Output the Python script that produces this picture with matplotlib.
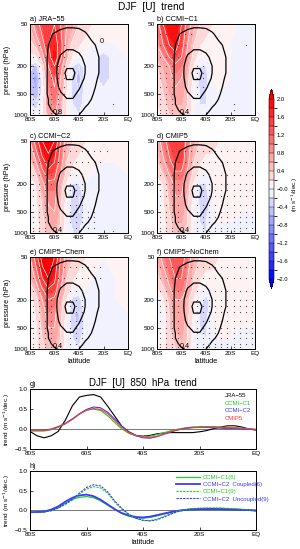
import numpy as np
import matplotlib
matplotlib.use('Agg')
import matplotlib.pyplot as plt
from matplotlib.colors import ListedColormap, BoundaryNorm

plt.rcParams['font.family'] = ['Liberation Sans', 'DejaVu Sans']

# ---------------- data: zonal-mean zonal wind trend (m/s/decade) ----------------
lat_grid = [-80, -75, -70, -65, -60, -55, -50, -45, -40, -35, -30, -20, -10, 0]
plev = [50, 100, 150, 200, 300, 500, 700, 1000]

trend_jra55 = [
    [0.6, 1.0, 1.4, 1.6, 1.6, 1.2, 0.8, 0.6, 0.4, 0.3, 0.2, 0.2, 0.1, 0.1],
    [0.3, 0.5, 1.0, 1.6, 1.8, 1.4, 0.6, 0.3, 0.2, 0.1, 0.0, -0.1, 0.0, 0.1],
    [0.1, 0.1, 0.6, 1.4, 1.9, 1.3, 0.5, 0.1, 0.0, 0.0, -0.1, -0.3, -0.1, 0.0],
    [-0.3, -0.5, 0.2, 1.2, 1.6, 1.0, 0.3, -0.2, -0.4, -0.1, -0.1, -0.3, -0.1, 0.0],
    [-0.5, -0.7, -0.1, 1.0, 1.3, 0.8, 0.2, -0.3, -0.5, -0.1, -0.1, -0.3, -0.1, 0.0],
    [-0.4, -0.6, -0.1, 0.9, 1.1, 0.7, 0.1, -0.3, -0.4, -0.1, 0.0, -0.1, 0.0, 0.0],
    [-0.2, -0.3, 0.0, 0.8, 1.0, 0.6, 0.1, -0.2, -0.3, -0.1, 0.0, 0.0, 0.0, 0.0],
    [-0.1, -0.1, 0.1, 0.6, 0.8, 0.5, 0.1, -0.1, -0.2, -0.1, 0.0, 0.0, 0.0, 0.0],
]
trend_ccmi_c1 = [
    [1.0, 1.6, 2.0, 2.0, 1.6, 1.0, 0.6, 0.4, 0.3, 0.2, 0.2, 0.1, -0.1, -0.1],
    [0.8, 1.2, 1.6, 1.8, 1.4, 0.8, 0.4, 0.2, 0.1, 0.1, 0.1, 0.0, -0.1, 0.0],
    [0.6, 0.8, 1.2, 1.4, 1.2, 0.7, 0.3, 0.0, 0.0, 0.1, 0.1, 0.0, 0.0, 0.0],
    [0.4, 0.6, 0.8, 1.1, 1.0, 0.6, 0.1, -0.2, -0.2, 0.0, 0.1, 0.0, 0.0, 0.0],
    [0.3, 0.5, 0.7, 0.9, 0.8, 0.5, 0.0, -0.3, -0.3, 0.0, 0.1, 0.0, 0.0, 0.0],
    [0.2, 0.4, 0.6, 0.7, 0.7, 0.4, 0.0, -0.2, -0.2, 0.0, 0.0, 0.0, 0.0, 0.0],
    [0.2, 0.3, 0.5, 0.6, 0.6, 0.4, 0.0, -0.2, -0.2, 0.0, 0.0, 0.0, 0.0, 0.0],
    [0.1, 0.2, 0.4, 0.5, 0.5, 0.3, 0.0, -0.1, -0.1, 0.0, 0.0, 0.0, 0.0, 0.0],
]
trend_ccmi_c2 = [
    [0.8, 1.4, 2.0, 2.2, 2.0, 1.2, 0.6, 0.4, 0.3, 0.2, 0.2, 0.1, 0.1, 0.1],
    [0.4, 0.8, 1.4, 1.8, 1.6, 1.0, 0.4, 0.2, 0.1, 0.1, 0.1, 0.0, 0.0, 0.1],
    [0.2, 0.4, 1.0, 1.4, 1.3, 0.8, 0.3, 0.0, 0.0, 0.1, 0.0, -0.1, -0.1, 0.0],
    [0.0, 0.2, 0.7, 1.1, 1.1, 0.6, 0.1, -0.2, -0.2, 0.0, 0.0, -0.1, -0.1, 0.0],
    [-0.1, 0.1, 0.5, 0.9, 0.9, 0.5, 0.0, -0.3, -0.4, -0.1, 0.0, -0.1, 0.0, 0.0],
    [-0.1, 0.1, 0.4, 0.7, 0.8, 0.4, 0.0, -0.3, -0.4, -0.1, 0.0, 0.0, 0.0, 0.0],
    [-0.1, 0.1, 0.3, 0.6, 0.7, 0.4, 0.0, -0.3, -0.3, -0.1, 0.0, 0.0, 0.0, 0.0],
    [0.0, 0.1, 0.3, 0.5, 0.5, 0.3, 0.0, -0.2, -0.2, 0.0, 0.0, 0.0, 0.0, 0.0],
]
trend_cmip5 = [
    [0.6, 1.0, 1.4, 1.6, 1.6, 1.0, 0.6, 0.4, 0.3, 0.3, 0.2, 0.2, 0.2, 0.2],
    [0.4, 0.7, 1.1, 1.4, 1.4, 0.9, 0.4, 0.2, 0.1, 0.1, 0.1, 0.1, 0.1, 0.1],
    [0.2, 0.4, 0.8, 1.1, 1.1, 0.7, 0.3, 0.0, -0.1, 0.1, 0.1, 0.1, 0.1, 0.1],
    [0.0, 0.2, 0.6, 0.9, 0.9, 0.6, 0.1, -0.2, -0.2, 0.0, 0.1, 0.1, 0.1, 0.1],
    [-0.1, 0.1, 0.5, 0.8, 0.8, 0.5, 0.0, -0.3, -0.3, 0.0, 0.1, 0.1, 0.1, 0.1],
    [-0.1, 0.1, 0.4, 0.7, 0.7, 0.4, 0.0, -0.2, -0.3, 0.0, 0.1, 0.1, 0.0, 0.0],
    [0.0, 0.1, 0.3, 0.6, 0.6, 0.4, 0.0, -0.2, -0.2, 0.0, 0.0, 0.0, 0.0, 0.0],
    [0.0, 0.1, 0.3, 0.5, 0.5, 0.3, 0.0, -0.1, -0.2, 0.0, 0.0, 0.0, 0.0, 0.0],
]
trend_cmip5_chem = [
    [0.8, 1.4, 2.2, 2.4, 2.0, 1.2, 0.6, 0.4, 0.3, 0.2, 0.1, 0.0, 0.1, 0.1],
    [0.5, 0.9, 1.6, 2.0, 1.7, 1.0, 0.4, 0.2, 0.1, 0.1, 0.0, -0.1, 0.0, 0.1],
    [0.2, 0.5, 1.1, 1.5, 1.4, 0.8, 0.3, 0.0, -0.1, 0.0, 0.0, 0.0, 0.0, 0.1],
    [0.0, 0.3, 0.8, 1.2, 1.1, 0.6, 0.1, -0.3, -0.3, 0.0, 0.0, 0.0, 0.0, 0.1],
    [-0.1, 0.2, 0.6, 1.0, 0.9, 0.5, 0.0, -0.4, -0.4, -0.1, 0.0, 0.0, 0.0, 0.0],
    [-0.1, 0.1, 0.5, 0.8, 0.8, 0.4, 0.0, -0.3, -0.4, -0.1, 0.0, 0.0, 0.0, 0.0],
    [0.0, 0.1, 0.4, 0.6, 0.7, 0.4, 0.0, -0.2, -0.3, 0.0, 0.0, 0.0, 0.0, 0.0],
    [0.0, 0.1, 0.3, 0.5, 0.5, 0.3, 0.0, -0.1, -0.2, 0.0, 0.0, 0.0, 0.0, 0.0],
]
trend_cmip5_nochem = [
    [0.6, 0.9, 1.2, 1.4, 1.4, 1.0, 0.6, 0.4, 0.3, 0.3, 0.2, 0.2, 0.2, 0.2],
    [0.3, 0.6, 0.9, 1.2, 1.2, 0.8, 0.4, 0.2, 0.1, 0.1, 0.1, 0.1, 0.1, 0.1],
    [0.1, 0.3, 0.7, 1.0, 1.0, 0.7, 0.3, 0.0, -0.1, 0.0, 0.1, 0.1, 0.1, 0.1],
    [-0.1, 0.1, 0.5, 0.8, 0.8, 0.5, 0.1, -0.1, -0.3, 0.0, 0.1, 0.1, 0.1, 0.1],
    [-0.2, 0.0, 0.4, 0.7, 0.7, 0.5, 0.1, -0.2, -0.3, 0.0, 0.1, 0.1, 0.1, 0.1],
    [-0.1, 0.0, 0.4, 0.6, 0.7, 0.4, 0.0, -0.2, -0.2, 0.0, 0.1, 0.1, 0.0, 0.0],
    [0.0, 0.1, 0.3, 0.5, 0.6, 0.4, 0.0, -0.1, -0.2, 0.0, 0.0, 0.0, 0.0, 0.0],
    [0.0, 0.1, 0.3, 0.4, 0.5, 0.3, 0.0, -0.1, -0.1, 0.0, 0.0, 0.0, 0.0, 0.0],
]

# DJF climatological [U] (m/s), black contours (finer grid)
clim_lat = [-80, -75, -70, -65, -60, -55, -50, -45, -40, -35, -30, -25, -20, -15, -10, -5, 0]
clim_p = [50, 70, 100, 150, 200, 250, 300, 400, 500, 600, 700, 850, 1000]
clim_u = [
    [-4, -2, 0, 3, 5, 7, 8, 8, 8, 7, 5, 3, 1, -1, -2, -3, -4],
    [-2, 1, 4, 8, 11, 13, 14, 14, 13, 11, 8, 6, 3, 0, -2, -3, -4],
    [-2, 2, 6, 10, 14, 17, 18, 18, 17, 15, 12, 9, 6, 2, -1, -3, -4],
    [-2, 2, 6, 11, 16, 21, 24, 24, 22, 18, 14, 11, 7, 3, 0, -2, -3],
    [-2, 2, 6, 11, 17, 24, 29, 29, 25, 20, 15, 11, 7, 3, 0, -2, -3],
    [-2, 2, 6, 11, 17, 25, 32, 32, 26, 20, 15, 11, 7, 3, 0, -2, -3],
    [-2, 2, 6, 11, 17, 24, 30.5, 30.5, 25, 19, 14, 10, 6, 2, 0, -2, -3],
    [-1, 2, 6, 11, 16, 22, 26, 26, 21, 16, 12, 9, 5, 2, 0, -2, -2],
    [-1, 2, 6, 11, 15, 19, 22, 22, 18, 14, 11, 8, 4, 1, -1, -2, -2],
    [0, 2, 6, 10, 14, 17, 19.5, 19.5, 16, 13, 10, 7, 4, 1, -1, -2, -2],
    [0, 2, 5, 10, 13, 16, 17, 17, 14, 11, 9, 6, 3, 1, -1, -2, -2],
    [0, 2, 5, 8, 12, 14, 15, 15, 12, 9, 7, 4, 2, 0, -1, -2, -2],
    [0, 1, 3, 6, 9, 11, 12, 12, 10, 7, 5, 3, 1, 0, -1, -1, -2],
]
clim_levels = [10, 20, 30]

# significance stippling
stip_lat = [-77.5, -72.5, -67.5, -62.5, -57.5, -52.5, -47.5, -42.5,
            -37.5, -32.5, -27.5, -22.5, -17.5, -12.5, -7.5, -2.5]
stip_p = [70, 100, 150, 200, 250, 300, 400, 500, 600, 700, 850, 925]
stip_jra55 = [
    "................", ".xxxxx..........", "xxxxxx..........", "xx.xxx..........",
    "xx.xxx..........", "xx.xxx..........", "xx.xxx..........", "xx.xxx..........",
    "xx.xx...........", "xx.xx........x..", "xx.xx...........", "xx.xx...........",
]
stip_ccmi_c1 = [
    "xxxxxx..........", "xxxxx.........x.", "xxxx............", "xxx...xx........",
    "xxx...xx........", "xxx...xx........", "xxx...xx........", "xxx...x.........",
    "xxx.............", "xxx.........x...", "xxx.........x...", "xxx.............",
]
stip_ccmi_c2 = [
    "xxxxxxxxxxxxx...", "xxxxx.xxxxxx....", "xxxx..xxx.......", "xxxx..xxx.......",
    "xxx...xxx.......", "xxx...xxx.......", "xxx...xxx.......", "xxx...xxxxx.....",
    "xxx...xxxxx.....", "xxx...xxxxx.....", "xxx....xxxx.....", "xxx..........x..",
]
stip_cmip5 = [
    "xxxxxxxxxxxxxxxx", "xxxxxxxxxxxxxxxx", "xxxxx.xxxxxxxxxx", "xxxx..xxxxxxxxxx",
    "xxxx..xxxxxxxxxx", "xxxx..xxxxxxxxxx", "xxxx..xxxxxxxxxx", "xxxx..xxxxxxxxxx",
    "xxxx..xxxxxxxxxx", "xxxx..xxxxxxxxxx", "xxxx..xxxxxxxxxx", "xxxx..xxxxxxxx..",
]
stip_cmip5_chem = [
    "xxxxxxxxxxxx....", "xxxxxx.xxxxx....", "xxxx..xxx.......", "xxxx..xxx.......",
    "xxxx..xxx.......", "xxxx..xxx.......", "xxxx..xxx.......", "xxxx..xxx.......",
    "xxxx..xxx.......", "xxxx..xxx.......", "xxxx..xx........", "xxxx............",
]
stip_cmip5_nochem = [
    "xxxxxxxxxxxxxxxx", "xxxxxxxxxxxxxxxx", "xxxxx.xxxxxxxxxx", "xxxx..xxxxxxxxxx",
    "xxxx..xxxxxxxxxx", "xxxx..xxxxxxxxxx", "xxxx..xxxxxxxxxx", "xxxx..xxxxxxxxxx",
    "xxxx..xxxxxxxxxx", "xxxx..xxxxxxxxxx", "xxxx..xxxxxxxxxx", "xxxx..xxxxxxxx..",
]

panel_titles = ["a) JRA\u221255", "b) CCMI\u2212C1", "c) CCMI\u2212C2",
                "d) CMIP5", "e) CMIP5\u2212Chem", "f) CMIP5\u2212NoChem"]
panel_fields = [trend_jra55, trend_ccmi_c1, trend_ccmi_c2,
                trend_cmip5, trend_cmip5_chem, trend_cmip5_nochem]
panel_stip = [stip_jra55, stip_ccmi_c1, stip_ccmi_c2,
              stip_cmip5, stip_cmip5_chem, stip_cmip5_nochem]

# ---------------- data: 850 hPa trend lines ----------------
lat_line = [-80 + 2.5 * i for i in range(33)]
u850_jra55 = [-0.06, -0.17, -0.22, -0.17, -0.06, 0.22, 0.58, 0.8, 0.84, 0.86, 0.8, 0.57,
              0.32, 0.07, -0.07, -0.16, -0.18, -0.16, -0.12, -0.1, -0.09, -0.09, -0.09,
              -0.09, -0.07, -0.04, 0.01, 0.05, 0.08, 0.08, 0.05, 0.0, -0.03]
u850_ccmi_c1 = [-0.05, -0.05, -0.05, -0.02, 0.04, 0.13, 0.25, 0.38, 0.47, 0.50, 0.46, 0.33,
                0.16, 0.0, -0.11, -0.17, -0.19, -0.18, -0.14, -0.09, -0.04, 0.0, 0.03,
                0.05, 0.06, 0.06, 0.06, 0.05, 0.04, 0.03, 0.02, 0.0, -0.02]
u850_ccmi_c2 = [-0.03, -0.03, -0.03, 0.0, 0.06, 0.14, 0.25, 0.38, 0.49, 0.55, 0.53, 0.42,
                0.25, 0.07, -0.08, -0.17, -0.22, -0.23, -0.19, -0.13, -0.07, -0.02, 0.02,
                0.04, 0.04, 0.04, 0.03, 0.02, 0.01, 0.01, 0.0, 0.0, -0.01]
u850_cmip5 = [-0.04, -0.04, -0.04, -0.01, 0.05, 0.13, 0.24, 0.37, 0.47, 0.51, 0.49, 0.38,
              0.21, 0.04, -0.09, -0.16, -0.2, -0.21, -0.18, -0.12, -0.06, -0.02, 0.01,
              0.03, 0.04, 0.05, 0.05, 0.04, 0.03, 0.03, 0.02, 0.01, -0.01]

u850_c1_6 = [-0.05, -0.05, -0.04, 0.0, 0.07, 0.18, 0.28, 0.33, 0.35, 0.32, 0.24, 0.13,
             0.02, -0.08, -0.15, -0.19, -0.2, -0.18, -0.14, -0.09, -0.05, -0.01, 0.02,
             0.04, 0.05, 0.05, 0.05, 0.05, 0.04, 0.03, 0.02, 0.0, -0.02]
u850_c2_coupled6 = [-0.05, -0.04, -0.03, 0.02, 0.1, 0.22, 0.32, 0.38, 0.4, 0.36, 0.27, 0.15,
                    0.03, -0.07, -0.13, -0.17, -0.18, -0.16, -0.12, -0.08, -0.04, -0.01,
                    0.01, 0.02, 0.03, 0.03, 0.03, 0.03, 0.02, 0.02, 0.01, 0.01, 0.0]
u850_c1_9 = [-0.05, -0.05, -0.04, -0.01, 0.06, 0.15, 0.26, 0.41, 0.54, 0.6, 0.57, 0.43,
             0.21, 0.03, -0.11, -0.21, -0.26, -0.26, -0.22, -0.15, -0.08, -0.02, 0.02,
             0.04, 0.05, 0.06, 0.06, 0.06, 0.05, 0.04, 0.03, 0.01, -0.01]
u850_c2_uncoupled9 = [-0.05, -0.05, -0.04, -0.01, 0.06, 0.16, 0.28, 0.44, 0.58, 0.65, 0.62,
                      0.47, 0.24, 0.05, -0.1, -0.2, -0.25, -0.27, -0.24, -0.17, -0.09,
                      -0.03, 0.01, 0.03, 0.04, 0.04, 0.04, 0.03, 0.03, 0.02, 0.01, 0.0, -0.01]

xticks = [-80, -60, -40, -20, 0]
xticklabels = ["80S", "60S", "40S", "20S", "EQ"]
pticks = [50, 200, 500, 1000]

C_GREEN = "#1fd01f"
C_BLUE = "#3a3aff"
C_RED = "#ff3a3a"

# ---------------- figure ----------------
W, H = 300, 549
fig = plt.figure(figsize=(W / 100, H / 100), dpi=100)


def add_ax(l, t, r, b):
    return fig.add_axes([l / W, 1 - b / H, (r - l) / W, (b - t) / H])


TICK_FS = 4.6
LAB_FS = 5.2

levels = np.round(np.arange(-2.0, 2.001, 0.2), 2)
base = plt.get_cmap('bwr')
ncol = len(levels) - 1
cmap = ListedColormap([base((i + 0.5) / ncol) for i in range(ncol)])
cmap.set_over(base(1.0))
cmap.set_under(base(0.0))
norm = BoundaryNorm(levels, cmap.N)

boxes = [(30, 24, 128, 115), (157, 24, 255, 115),
         (30, 141, 128, 233), (157, 141, 255, 233),
         (30, 257, 128, 349), (157, 257, 255, 349)]

LON, P = np.meshgrid(lat_grid, plev)
CLON, CP = np.meshgrid(clim_lat, clim_p)
cf = None
for k in range(6):
    ax = add_ax(*boxes[k])
    Z = np.array(panel_fields[k])
    cf = ax.contourf(LON, P, Z, levels=levels, cmap=cmap, norm=norm, extend='both')
    ax.contour(LON, P, Z, levels=[0.4, 0.8, 1.2, 1.6, 2.0, 2.4], colors='white',
               linewidths=0.5)
    ax.contour(LON, P, Z, levels=[-0.8, -0.4], colors='white', linewidths=0.4)
    ax.contour(CLON, CP, np.array(clim_u), levels=clim_levels, colors='black',
               linewidths=0.9)
    # stippling
    sx, sy = [], []
    for i, row in enumerate(panel_stip[k]):
        for j, ch in enumerate(row):
            if ch == 'x':
                sx.append(stip_lat[j])
                sy.append(stip_p[i])
    ax.plot(sx, sy, linestyle='none', marker='o', markersize=0.9,
            color='#505050', markeredgewidth=0)
    ax.set_yscale('log')
    ax.set_ylim(1000, 50)
    ax.set_xlim(-80, 0)
    ax.set_yticks(pticks)
    ax.set_yticklabels([str(p) for p in pticks])
    ax.yaxis.set_minor_locator(matplotlib.ticker.NullLocator())
    ax.set_xticks(xticks)
    ax.set_xticklabels(xticklabels)
    ax.tick_params(labelsize=TICK_FS, length=2, width=0.5, direction='in', pad=1.5)
    for s in ax.spines.values():
        s.set_linewidth(0.7)
    ax.text(0.0, 1.015, panel_titles[k], transform=ax.transAxes, fontsize=LAB_FS,
            ha='left', va='bottom')
    if k % 2 == 0:
        ax.set_ylabel("pressure (hPa)", fontsize=LAB_FS, labelpad=2)
    if k >= 4:
        ax.set_xlabel("latitude", fontsize=LAB_FS, labelpad=1.5)
    ax.text(-57, 930, "0.8" if k == 0 else "0.4", fontsize=5.2, ha='center',
            va='center', color='black')
    if k == 0:
        ax.text(-21.5, 90, "0", fontsize=5.2, ha='center', va='center', color='black')

fig.text(151 / W, 1 - 6.5 / H, "DJF  [U]  trend", fontsize=7.3, ha='center', va='center')

# colorbar
cax = fig.add_axes([269 / W, 1 - 289 / H, 5 / W, 200 / H])
cbticks = np.round(np.arange(-2.0, 2.01, 0.4), 1)
cb = fig.colorbar(cf, cax=cax, orientation='vertical', extend='both',
                  extendfrac=0.055, drawedges=True, ticks=cbticks)
cb.ax.set_yticklabels([f"{v:.1f}".replace('-', '\u2212') for v in cbticks])
cb.ax.tick_params(labelsize=4.2, length=0, pad=2)
cb.outline.set_linewidth(0.4)
cb.dividers.set_linewidth(0.3)
fig.text(294.5 / W, 1 - 195 / H, "(m s$^{-1}$/dec.)", fontsize=4.3, rotation=90,
         ha='center', va='center')

# ---------- panel g ----------
axg = add_ax(30, 389, 256, 449)
axg.axhline(0, color='#777777', lw=0.7)
axg.plot(lat_line, u850_jra55, color='black', lw=0.8, label='JRA\u221255')
axg.plot(lat_line, u850_ccmi_c1, color=C_GREEN, lw=0.8, label='CCMI\u2212C1')
axg.plot(lat_line, u850_ccmi_c2, color=C_BLUE, lw=0.8, label='CCMI\u2212C2')
axg.plot(lat_line, u850_cmip5, color=C_RED, lw=0.8, label='CMIP5')
leg = axg.legend(loc='upper left', bbox_to_anchor=(0.845, 1.0), frameon=False,
                 handlelength=0, handletextpad=0, fontsize=4.3, labelspacing=0.45,
                 labelcolor='linecolor', borderaxespad=0.2)
for h in leg.legend_handles:
    h.set_visible(False)
axg.set_title("DJF  [U]  850  hPa  trend", fontsize=7.0, pad=2)
axg.text(0.0, 1.02, "g)", transform=axg.transAxes, fontsize=LAB_FS, ha='left', va='bottom')

# ---------- panel h ----------
axh = add_ax(30, 471, 256, 530)
axh.axhline(0, color='#777777', lw=0.7)
axh.plot(lat_line, u850_c1_6, color=C_GREEN, lw=0.9, label='CCMI\u2212C1(6)')
axh.plot(lat_line, u850_c2_coupled6, color=C_BLUE, lw=1.3, label='CCMI\u2212C2  Coupled(6)')
axh.plot(lat_line, u850_c1_9, color=C_GREEN, lw=0.8, ls=(0, (2, 1)), label='CCMI\u2212C1(9)')
axh.plot(lat_line, u850_c2_uncoupled9, color=C_BLUE, lw=0.8, ls=(0, (2, 1)),
         label='CCMI\u2212C2  Uncoupled(9)')
axh.legend(loc='upper left', bbox_to_anchor=(0.63, 1.0), frameon=False,
           handlelength=4.0, handletextpad=0.5, fontsize=4.3, labelspacing=0.35,
           labelcolor='linecolor', borderaxespad=0.2)
axh.text(0.0, 1.02, "h)", transform=axh.transAxes, fontsize=LAB_FS, ha='left', va='bottom')
axh.set_xlabel("latitude", fontsize=LAB_FS, labelpad=1.5)

for ax in (axg, axh):
    ax.set_xlim(-80, 0)
    ax.set_ylim(-0.5, 1.0)
    ax.set_xticks(xticks)
    ax.set_xticklabels(xticklabels)
    ax.set_yticks([-0.5, 0.0, 0.5, 1.0])
    ax.set_yticklabels(["\u22120.5", "0.0", "0.5", "1.0"])
    ax.tick_params(labelsize=TICK_FS, length=2, width=0.5, direction='in', pad=1.5)
    for s in ax.spines.values():
        s.set_linewidth(0.7)
    ax.set_ylabel("trend (m s$^{-1}$/dec.)", fontsize=4.6, labelpad=2)

fig.savefig("out.png", dpi=100)
